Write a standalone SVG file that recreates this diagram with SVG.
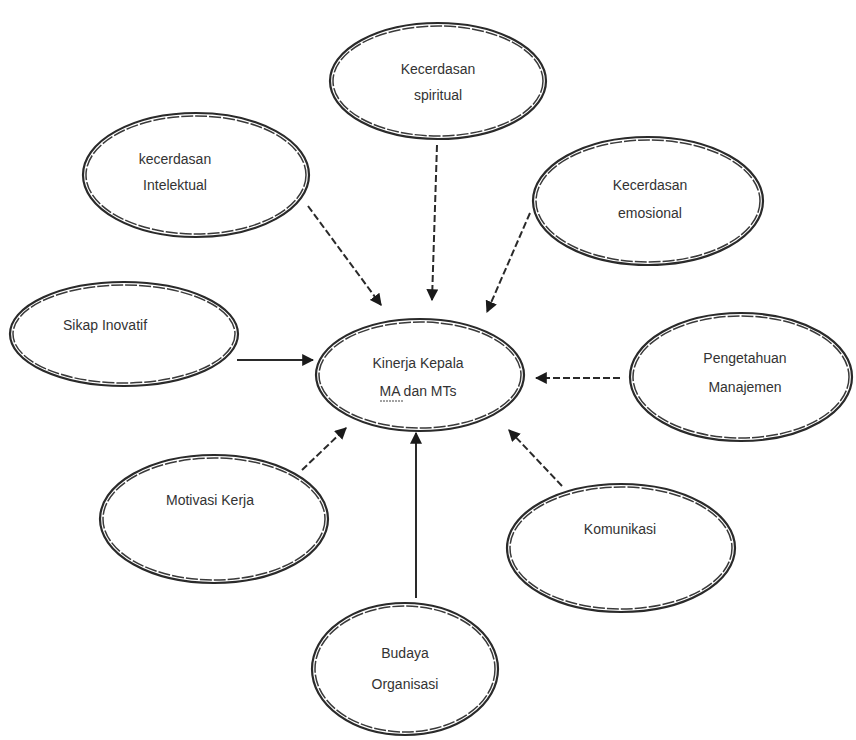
<svg xmlns="http://www.w3.org/2000/svg" width="856" height="740" viewBox="0 0 856 740">
<style>
.o{fill:none;stroke:#2a2a2a;stroke-width:2.2}
.i{fill:none;stroke:#3a3a3a;stroke-width:1.5;stroke-dasharray:12 2}
.t{font-family:"Liberation Sans",Arial,sans-serif;font-size:14px;fill:#333;text-anchor:middle}
.c{stroke:#2a2a2a;stroke-width:2;fill:none;marker-end:url(#ah)}
.d{stroke-dasharray:7 3}
</style>
<defs>
<marker id="ah" viewBox="0 0 10 10" refX="9" refY="5" markerWidth="6" markerHeight="6" orient="auto" markerUnits="strokeWidth">
<path d="M0,0 L10,5 L0,10 z" fill="#1a1a1a"/>
</marker>
</defs>
<rect width="856" height="740" fill="#fff"/>
<g id="connectors">
<line class="c d" x1="308" y1="206" x2="381" y2="305"/>
<line class="c d" x1="437" y1="145" x2="432" y2="300"/>
<line class="c d" x1="530" y1="213" x2="487" y2="312"/>
<line class="c" x1="237" y1="360" x2="313" y2="360"/>
<line class="c d" x1="620" y1="378" x2="536" y2="378"/>
<line class="c d" x1="302" y1="470" x2="346" y2="428"/>
<line class="c d" x1="562" y1="486" x2="509" y2="430"/>
<line class="c" x1="416" y1="598" x2="416" y2="433"/>
</g>
<g id="spiritual">
<ellipse class="o" cx="438" cy="81" rx="108" ry="58"/>
<ellipse class="i" cx="438" cy="81" rx="105" ry="55"/>
<text class="t" x="438" y="74">Kecerdasan</text>
<text class="t" x="438" y="100">spiritual</text>
</g>
<g id="intelektual">
<ellipse class="o" cx="196" cy="175" rx="113" ry="62"/>
<ellipse class="i" cx="196" cy="175" rx="110" ry="59"/>
<text class="t" x="175" y="164">kecerdasan</text>
<text class="t" x="175" y="190">Intelektual</text>
</g>
<g id="emosional">
<ellipse class="o" cx="648" cy="201" rx="115" ry="64"/>
<ellipse class="i" cx="648" cy="201" rx="112" ry="61"/>
<text class="t" x="650" y="190">Kecerdasan</text>
<text class="t" x="650" y="218">emosional</text>
</g>
<g id="sikap">
<ellipse class="o" cx="124" cy="334" rx="114" ry="52"/>
<ellipse class="i" cx="124" cy="334" rx="111" ry="49"/>
<text class="t" x="105" y="330">Sikap Inovatif</text>
</g>
<g id="kinerja">
<ellipse class="o" cx="420" cy="375" rx="104" ry="56"/>
<ellipse class="i" cx="420" cy="375" rx="101" ry="53"/>
<text class="t" x="418" y="368">Kinerja Kepala</text>
<text class="t" x="418" y="396">MA dan MTs</text>
<line x1="380" y1="401" x2="404" y2="401" stroke="#444" stroke-width="1" stroke-dasharray="2 1"/>
</g>
<g id="pengetahuan">
<ellipse class="o" cx="741" cy="377" rx="111" ry="64"/>
<ellipse class="i" cx="741" cy="377" rx="108" ry="61"/>
<text class="t" x="745" y="363">Pengetahuan</text>
<text class="t" x="745" y="392">Manajemen</text>
</g>
<g id="motivasi">
<ellipse class="o" cx="214" cy="519" rx="114" ry="64"/>
<ellipse class="i" cx="214" cy="519" rx="111" ry="61"/>
<text class="t" x="210" y="505">Motivasi Kerja</text>
</g>
<g id="komunikasi">
<ellipse class="o" cx="621" cy="548" rx="114" ry="64" stroke="#555"/>
<ellipse class="i" cx="621" cy="548" rx="111" ry="61" stroke="#666"/>
<text class="t" x="620" y="534" fill="#888">Komunikasi</text>
</g>
<g id="budaya">
<ellipse class="o" cx="405" cy="669" rx="93" ry="66"/>
<ellipse class="i" cx="405" cy="669" rx="90" ry="63"/>
<text class="t" x="405" y="658">Budaya</text>
<text class="t" x="405" y="689">Organisasi</text>
</g>
</svg>
